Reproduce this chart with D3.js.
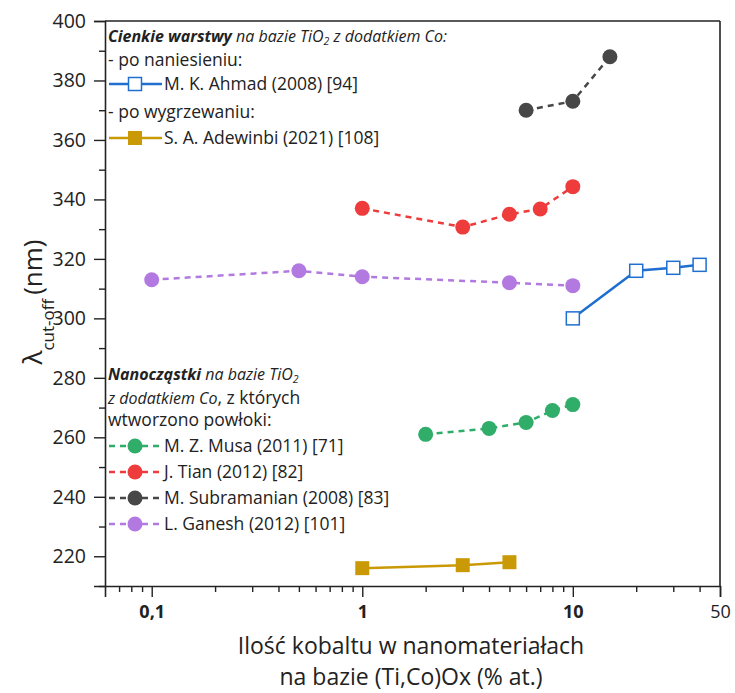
<!DOCTYPE html>
<html lang="pl">
  <head>
    <meta charset="UTF-8" />
    <title>Lambda cut-off vs Co content</title>
    <script src="https://d3js.org/d3.v7.min.js"></script>
    <style>
      body { margin: 0; background: #fff; }
      text { font-family: "Open Sans", sans-serif; fill: #222; }
    </style>
  </head>
  <body>
    <svg id="chart" width="735" height="693"></svg>
    <script>
      // data
      const ahmadX = [10, 20, 30, 40];
      const ahmadY = [300, 316, 317, 318];
      const adewinbiX = [1, 3, 5];
      const adewinbiY = [216, 217, 218];
      const musaX = [2, 4, 6, 8, 10];
      const musaY = [261, 263, 265, 269, 271];
      const tianX = [1, 3, 5, 7, 10];
      const tianY = [337, 330.7, 335, 336.8, 344.3];
      const subraX = [6, 10, 15];
      const subraY = [370, 373, 388];
      const ganeshX = [0.1, 0.5, 1, 5, 10];
      const ganeshY = [313, 316, 314, 312, 311];

      const yTicks = [220, 240, 260, 280, 300, 320, 340, 360, 380, 400];
      const xTicks = [0.1, 1, 10, 50];
      const xTickLabels = ["0,1", "1", "10", "50"];

      const svg = d3.select("#chart");
      const margin = { top: 21, right: 15, bottom: 107, left: 105 };
      const W = 735 - margin.left - margin.right;
      const H = 693 - margin.top - margin.bottom;

      const x = d3.scaleLog().domain([0.06, 50]).range([0, W]);
      const y = d3.scaleLinear().domain([210, 400]).range([H, 0]);

      const g = svg.append("g").attr("transform", `translate(${margin.left},${margin.top})`);

      // minor ticks on log axis
      const xMinor = [];
      [0.01, 0.1, 1, 10].forEach((dec) => {
        for (let k = 2; k <= 9; k++) {
          const v = +(dec * k).toPrecision(3);
          if (v > 0.06 && v < 50) xMinor.push(v);
        }
      });
      const yMinor = d3.range(210, 400, 10).filter((v) => v % 20 !== 0);

      g.append("g")
        .attr("transform", `translate(0,${H})`)
        .call(d3.axisBottom(x).tickValues(xMinor).tickSize(6).tickFormat(""))
        .call((a) => a.select(".domain").remove());
      g.append("g")
        .call(d3.axisLeft(y).tickValues(yMinor).tickSize(6).tickFormat(""))
        .call((a) => a.select(".domain").remove());

      const xAxis = g.append("g")
        .attr("transform", `translate(0,${H})`)
        .call(d3.axisBottom(x).tickValues(xTicks).tickSize(11).tickPadding(8)
          .tickFormat((d, i) => xTickLabels[i]));
      xAxis.selectAll("text")
        .style("font-size", "18px")
        .style("font-weight", (d) => (d === 50 ? "400" : "700"))
        .attr("fill", "#222");

      const yAxis = g.append("g")
        .call(d3.axisLeft(y).tickValues(yTicks).tickSize(11).tickPadding(8));
      yAxis.selectAll("text").style("font-size", "19.5px").attr("fill", "#222");

      g.selectAll(".domain").attr("stroke", "#222").attr("stroke-width", 1.6);
      g.selectAll(".tick line").attr("stroke", "#222").attr("stroke-width", 1.4);

      // box top/right
      g.append("line").attr("x1", 0).attr("x2", W).attr("y1", 0).attr("y2", 0)
        .attr("stroke", "#222").attr("stroke-width", 1.6);
      g.append("line").attr("x1", W).attr("x2", W).attr("y1", 0).attr("y2", H)
        .attr("stroke", "#222").attr("stroke-width", 1.6);

      const series = [
        { xs: ahmadX, ys: ahmadY, color: "#1f6fd1", dash: null, shape: "sqOpen" },
        { xs: adewinbiX, ys: adewinbiY, color: "#c99a06", dash: null, shape: "sq" },
        { xs: musaX, ys: musaY, color: "#2fad69", dash: "6,5", shape: "circle" },
        { xs: tianX, ys: tianY, color: "#ee3b3b", dash: "6,5", shape: "circle" },
        { xs: subraX, ys: subraY, color: "#474747", dash: "6,5", shape: "circle" },
        { xs: ganeshX, ys: ganeshY, color: "#b27ae0", dash: "6,5", shape: "circle" },
      ];

      const line = d3.line().x((d) => x(d[0])).y((d) => y(d[1]));

      function drawMarker(sel, shape, color, cx, cy) {
        if (shape === "circle") {
          sel.append("circle").attr("cx", cx).attr("cy", cy).attr("r", 7.5).attr("fill", color);
        } else if (shape === "sq") {
          sel.append("rect").attr("x", cx - 7).attr("y", cy - 7).attr("width", 14).attr("height", 14)
            .attr("fill", color);
        } else {
          sel.append("rect").attr("x", cx - 6.5).attr("y", cy - 6.5).attr("width", 13).attr("height", 13)
            .attr("fill", "#fff").attr("stroke", color).attr("stroke-width", 1.5);
        }
      }

      series.forEach((s) => {
        const pts = s.xs.map((v, i) => [v, s.ys[i]]);
        g.append("path").datum(pts).attr("d", line).attr("fill", "none")
          .attr("stroke", s.color).attr("stroke-width", 2.5)
          .attr("stroke-dasharray", s.dash);
        pts.forEach((p) => drawMarker(g, s.shape, s.color, x(p[0]), y(p[1])));
      });

      // legend
      const leg = svg.append("g").style("font-size", "17.5px");
      function legendText(yPos, parts) {
        const t = leg.append("text").attr("x", 108).attr("y", yPos);
        let shifted = false;
        parts.forEach((p) => {
          const ts = t.append("tspan").text(p.t);
          if (p.b) ts.style("font-weight", "700");
          if (p.i) ts.style("font-style", "italic").style("font-size", "16px");
          if (p.sub) {
            ts.attr("dy", 2.5).style("font-size", "10.5px");
            shifted = true;
          } else if (shifted) {
            ts.attr("dy", -2.5);
            shifted = false;
          }
        });
      }
      function legendEntry(yPos, s, label) {
        leg.append("line").attr("x1", 109).attr("x2", 162).attr("y1", yPos).attr("y2", yPos)
          .attr("stroke", s.color).attr("stroke-width", 2.5).attr("stroke-dasharray", s.dash);
        drawMarker(leg, s.shape, s.color, 135, yPos);
        leg.append("text").attr("x", 164).attr("y", yPos + 6).text(label);
      }

      legendText(42, [{ t: "Cienkie warstwy", b: true, i: true }, { t: " na bazie TiO", i: true },
        { t: "2", i: true, sub: true }, { t: " z dodatkiem Co:", i: true }]);
      legendText(66, [{ t: "- po naniesieniu:" }]);
      legendEntry(84, series[0], "M. K. Ahmad (2008) [94]");
      legendText(118, [{ t: "- po wygrzewaniu:" }]);
      legendEntry(138, series[1], "S. A. Adewinbi (2021) [108]");

      legendText(380, [{ t: "Nanocząstki", b: true, i: true }, { t: " na bazie TiO", i: true },
        { t: "2", i: true, sub: true }]);
      legendText(404, [{ t: "z dodatkiem Co", i: true }, { t: ", z których" }]);
      legendText(426, [{ t: "wtworzono powłoki:" }]);
      legendEntry(446, series[2], "M. Z. Musa (2011) [71]");
      legendEntry(472, series[3], "J. Tian (2012) [82]");
      legendEntry(498, series[4], "M. Subramanian (2008) [83]");
      legendEntry(524, series[5], "L. Ganesh (2012) [101]");

      // axis titles
      const xt = svg.append("text").attr("text-anchor", "middle").style("font-size", "23px");
      xt.append("tspan").attr("x", 411).attr("y", 654).text("Ilość kobaltu w nanomateriałach");
      xt.append("tspan").attr("x", 411).attr("y", 685).text("na bazie (Ti,Co)Ox (% at.)");

      const yt = svg.append("text").attr("text-anchor", "middle")
        .attr("transform", "translate(42,302) rotate(-90)").style("font-size", "26px");
      yt.append("tspan").text("λ");
      yt.append("tspan").attr("baseline-shift", "sub").style("font-size", "17px").text("cut-off");
      yt.append("tspan").attr("dx", 4).text("(nm)");
    </script>
  </body>
</html>
